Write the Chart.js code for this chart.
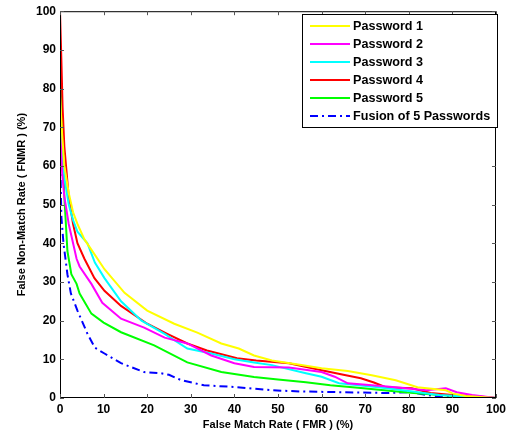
<!DOCTYPE html>
<html>
<head>
<meta charset="utf-8">
<script src="https://cdn.jsdelivr.net/npm/chart.js@4.4.0/dist/chart.umd.min.js"></script>
<style>
  html, body { margin: 0; padding: 0; background: #fff; }
  #wrap { width: 510px; height: 438px; position: relative; }
</style>
</head>
<body>
<div id="wrap"><canvas id="rocChart"></canvas></div>
<script>
// ============================
// DATA
// ============================
const seriesNames = ["Password 1", "Password 2", "Password 3", "Password 4", "Password 5", "Fusion of 5 Passwords"];
const seriesColors = ["#ffff00", "#ff00ff", "#00ffff", "#ff0000", "#00ff00", "#0000ff"];

const fmr1 = [0, 0.5, 1, 2, 3, 4, 5.6, 8, 10.2, 14.8, 20, 26.2, 31.5, 37, 41, 44.5, 48.6, 55, 60, 66, 71.5, 77, 82, 88.5, 90, 93, 100];
const fnmr1 = [78, 68, 60, 53, 48, 45, 41, 37, 33.3, 27.2, 22.6, 19.2, 16.9, 14.1, 12.8, 11, 9.7, 8.6, 7.7, 7, 5.9, 4.6, 2.8, 2, 1.2, 0.5, 0];

const fmr2 = [0, 0.5, 1, 2, 3, 3.8, 4.5, 6.3, 7.2, 9.7, 14, 19.3, 24, 29.2, 34.7, 40, 44.5, 52.5, 60, 63, 66, 75, 84, 88.5, 91, 94.5, 100];
const fnmr2 = [70, 58, 52, 45, 40, 36, 34, 31, 29.5, 24.6, 20.5, 18.2, 15.6, 14.1, 11, 9, 8, 7.9, 6.7, 5.5, 3.8, 3, 2, 2.5, 1.5, 0.8, 0];

const fmr3 = [0, 0.5, 1, 2, 3, 4, 6.3, 8, 10.2, 14, 18.7, 24, 29.2, 34.7, 40, 44.5, 48.6, 56.4, 60, 64, 73, 80, 87, 93, 100];
const fnmr3 = [76, 64, 57, 50, 46, 43, 40, 35, 31, 25, 20, 16.6, 12.8, 11.5, 10, 9.2, 8.5, 6.4, 5.5, 3.8, 2.8, 1.8, 0.8, 0.4, 0];

const fmr4 = [0, 0.3, 0.6, 1, 2, 3, 4, 5.6, 7.9, 10.2, 14, 20, 24.6, 29.2, 33.7, 40.6, 45, 52.5, 60, 65, 69, 72, 74.7, 80.7, 85, 90, 95, 100];
const fnmr4 = [100, 88, 75, 65, 52, 45, 40, 36, 31, 27.7, 23.8, 19.2, 16.6, 14.1, 12.3, 10.3, 9.7, 9, 7.2, 6, 5.1, 4, 2.8, 2.5, 1.3, 0.8, 0.5, 0];

const fmr5 = [0, 0.3, 0.6, 1, 1.7, 2.6, 3.8, 4.5, 7.2, 10, 14, 21.6, 29.2, 37, 44.5, 50, 56.4, 62, 69, 79, 87, 93, 100];
const fnmr5 = [93, 80, 65, 52, 38, 32, 29.5, 27, 21.8, 19.5, 17, 13.6, 9.2, 6.7, 5.4, 4.8, 4.1, 3.3, 2.6, 1.5, 0.8, 0.4, 0];

const fmrF = [0, 0.1, 0.3, 0.8, 1.7, 2.5, 4, 6.3, 8, 10.2, 14, 19.3, 23.2, 25, 27.8, 33, 40.6, 48.6, 55, 64, 75, 80.7, 84, 87, 100];
const fnmrF = [75, 60, 47, 40, 32, 27, 22.6, 16.6, 13, 11.5, 9, 6.7, 6.4, 6, 4.6, 3.3, 2.8, 2, 1.7, 1.5, 1.3, 1.5, 0.8, 0.3, 0];

const tickValues = [0, 10, 20, 30, 40, 50, 60, 70, 80, 90, 100];

// ============================
// HELPER: zip x/y into points
// ============================
function toPoints(xs, ys) {
  return xs.map((x, i) => ({ x: x, y: ys[i] }));
}

const allX = [fmr1, fmr2, fmr3, fmr4, fmr5, fmrF];
const allY = [fnmr1, fnmr2, fnmr3, fnmr4, fnmr5, fnmrF];

const datasets = seriesNames.map((name, i) => ({
  label: name,
  data: toPoints(allX[i], allY[i]),
  borderColor: seriesColors[i],
  borderWidth: 2,
  borderDash: i === 5 ? [8, 4, 2, 4] : [],
  pointRadius: 0,
  tension: 0,
  fill: false,
}));

// ============================
// PLUGIN: MATLAB box, inner ticks, legend
// ============================
const matlabFrame = {
  id: "matlabFrame",
  afterDatasetsDraw(chart) {
    const ctx = chart.ctx;
    const a = chart.chartArea;
    const xs = chart.scales.x;
    const ys = chart.scales.y;
    ctx.save();
    ctx.strokeStyle = "#000";
    ctx.lineWidth = 1;
    ctx.strokeRect(a.left + 0.5, a.top + 0.5, a.right - a.left - 1, a.bottom - a.top - 1);

    // inward ticks on all four sides
    ctx.strokeStyle = "#555";
    const len = 4;
    tickValues.forEach((v) => {
      const px = Math.round(xs.getPixelForValue(v)) + 0.5;
      ctx.beginPath();
      ctx.moveTo(px, a.bottom); ctx.lineTo(px, a.bottom - len);
      ctx.moveTo(px, a.top); ctx.lineTo(px, a.top + len);
      const py = Math.round(ys.getPixelForValue(v)) + 0.5;
      ctx.moveTo(a.left, py); ctx.lineTo(a.left + len, py);
      ctx.moveTo(a.right, py); ctx.lineTo(a.right - len, py);
      ctx.stroke();
    });

    // legend box
    const bx = 302, by = 14, bw = 195, bh = 113;
    ctx.fillStyle = "#fff";
    ctx.fillRect(bx, by, bw, bh);
    ctx.strokeStyle = "#000";
    ctx.strokeRect(bx + 0.5, by + 0.5, bw, bh);
    ctx.font = "bold 12.6px 'Liberation Sans', Arial, sans-serif";
    ctx.textBaseline = "middle";
    seriesNames.forEach((name, i) => {
      const y = by + 12 + i * 18;
      ctx.strokeStyle = seriesColors[i];
      ctx.lineWidth = 2;
      ctx.setLineDash(i === 5 ? [8, 4, 2, 4] : []);
      ctx.beginPath();
      ctx.moveTo(bx + 8, y); ctx.lineTo(bx + 48, y);
      ctx.stroke();
      ctx.setLineDash([]);
      ctx.fillStyle = "#000";
      ctx.fillText(name, bx + 51, y + 1);
    });
    ctx.restore();
  },
};

// ============================
// CHART
// ============================
const axisFont = { family: "'Liberation Sans', Arial, sans-serif", size: 12, weight: "bold" };

new Chart(document.getElementById("rocChart"), {
  type: "line",
  data: { datasets: datasets },
  options: {
    responsive: true,
    maintainAspectRatio: false,
    animation: false,
    layout: { padding: { top: 7, right: 11, left: 15, bottom: 6 } },
    plugins: {
      legend: { display: false },
      tooltip: { enabled: false },
    },
    scales: {
      x: {
        type: "linear",
        min: 0,
        max: 100,
        afterBuildTicks: (scale) => { scale.ticks = tickValues.map((v) => ({ value: v })); },
        afterFit: (scale) => { scale.height = 34; },
        grid: { display: false, drawTicks: false },
        border: { display: false },
        ticks: { color: "#000", font: axisFont, padding: 4, maxRotation: 0 },
        title: {
          display: true,
          text: "False Match Rate ( FMR ) (%)",
          color: "#000",
          font: { family: "'Liberation Sans', Arial, sans-serif", size: 11, weight: "bold" },
          padding: { top: 0, bottom: 0 },
        },
      },
      y: {
        type: "linear",
        min: 0,
        max: 100,
        afterBuildTicks: (scale) => { scale.ticks = tickValues.map((v) => ({ value: v })); },
        afterFit: (scale) => { scale.width = 45; },
        grid: { display: false, drawTicks: false },
        border: { display: false },
        ticks: { color: "#000", font: axisFont, padding: 4 },
        title: {
          display: true,
          text: "False Non-Match Rate ( FNMR ) (%)",
          color: "#000",
          font: { family: "'Liberation Sans', Arial, sans-serif", size: 11, weight: "bold" },
          padding: { top: 0, bottom: 0 },
        },
      },
    },
  },
  plugins: [matlabFrame],
});
</script>
</body>
</html>
